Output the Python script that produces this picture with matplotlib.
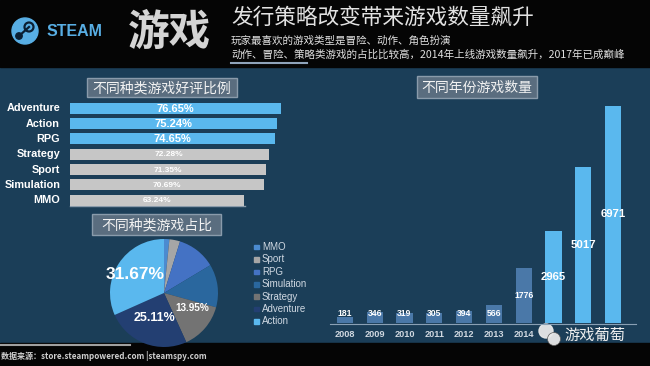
import matplotlib
matplotlib.use("Agg")
import matplotlib.pyplot as plt
from matplotlib.patches import Rectangle, Circle
import numpy as np

plt.rcParams['font.family'] = ['Noto Sans CJK SC', 'DejaVu Sans']

# ---------------- data ----------------
genres = ["Adventure", "Action", "RPG", "Strategy", "Sport", "Simulation", "MMO"]
rating = [76.65, 75.24, 74.65, 72.28, 71.35, 70.69, 63.24]

pie_labels = ["MMO", "Sport", "RPG", "Simulation", "Strategy", "Adventure", "Action"]
pie_share = [1.6, 3.2, 11.6, 12.87, 13.95, 25.11, 31.67]
pie_shown = ["", "", "", "", "13.95%", "25.11%", "31.67%"]

years = ["2008", "2009", "2010", "2011", "2012", "2013", "2014", "2015", "2016", "2017"]
counts = [181, 346, 319, 305, 394, 566, 1776, 2965, 5017, 6971]

title_big = "游戏"
title_main = "发行策略改变带来游戏数量飙升"
sub1 = "玩家最喜欢的游戏类型是冒险、动作、角色扮演"
sub2 = "动作、冒险、策略类游戏的占比比较高，2014年上线游戏数量飙升，2017年已成巅峰"
source = "数据来源：store.steampowered.com |steamspy.com"
watermark = "游戏葡萄"

# ---------------- style ----------------
W, H = 650, 366
BG = "#1b3e58"
LBLUE = "#5ab8ee"
GRAYBAR = "#c6c6c6"
SBLUE = "#4a78a8"
pie_colors = ["#4b8bd0", "#a6a6a6", "#4472c4", "#2a679e", "#737373", "#233f72", "#5ab8ee"]
LIB = ['Liberation Sans', 'DejaVu Sans']

fig = plt.figure(figsize=(W / 100, H / 100), dpi=100)
fig.patch.set_facecolor(BG)

bgax = fig.add_axes([0, 0, 1, 1])
bgax.set_xlim(0, W)
bgax.set_ylim(H, 0)
bgax.axis("off")
bgax.set_zorder(-5)

def rect_px(x0, y0, x1, y1):
    return [x0 / W, 1 - y1 / H, (x1 - x0) / W, (y1 - y0) / H]

# header & footer
bgax.add_patch(Rectangle((0, 0), W, 67, color="#050505"))
bgax.add_patch(Rectangle((0, 343), W, 23, color="#050505"))
bgax.plot([0, 130], [344.5, 344.5], color="#a0a0a0", lw=1.5)
bgax.plot([231, 307], [62.5, 62.5], color="#8fa3ba", lw=1.5)

# steam logo
bgax.add_patch(Circle((25, 31), 13, color="#58aee4"))
bgax.add_patch(Circle((29, 27), 4.5, fill=False, ec="#0b1f33", lw=1.6))
bgax.add_patch(Circle((19, 36), 3.2, color="#0b1f33"))
bgax.plot([19, 29], [36, 27], color="#0b1f33", lw=1.6)
bgax.text(47, 31, "STEAM", color="#58aee4", fontsize=11.5, fontweight="bold",
          family=LIB, va="center", ha="left")
bgax.text(128, 33, title_big, color="#d4d4d4", fontsize=30, fontweight="bold",
          va="center", ha="left")
bgax.text(231, 18, title_main, color="#e2e2e2", fontsize=15.6, va="center", ha="left")
bgax.text(231, 41, sub1, color="#e0e0e0", fontsize=7.6, va="center", ha="left")
bgax.text(231, 55, sub2, color="#e0e0e0", fontsize=7.6, va="center", ha="left")

# title boxes
def title_box(x0, y0, x1, y1, txt, fs=10):
    bgax.add_patch(Rectangle((x0, y0), x1 - x0, y1 - y0, fc="#5a6d7f", ec="#8a9bab", lw=1))
    bgax.text((x0 + x1) / 2, (y0 + y1) / 2 + 0.5, txt, color="#f2f2f2", fontsize=fs,
              ha="center", va="center")

title_box(87, 78, 237, 97, "不同种类游戏好评比例")
bgax.plot([70, 245], [206, 206], color="#8a9bab", lw=1)
title_box(92, 214, 221, 235, "不同种类游戏占比")
title_box(417, 76, 537, 98, "不同年份游戏数量")

# ---------------- left bar chart ----------------
axb = fig.add_axes(rect_px(70, 100.5, 300, 208))
axb.set_facecolor("none")
yb = np.arange(len(genres))
bcols = [LBLUE] * 3 + [GRAYBAR] * 4
axb.barh(yb, rating, height=0.72, color=bcols)
axb.set_xlim(0, 230 / 2.75)
axb.set_ylim(len(genres) - 0.5, -0.5)
axb.axis("off")
for i, (g, v) in enumerate(zip(genres, rating)):
    axb.text(-3.6, i, g, color="white", fontsize=7.8, fontweight="bold",
             family=LIB, ha="right", va="center")
    axb.text(v / 2, i + 0.03, f"{v:.2f}%", color="white",
             fontsize=8 if i < 3 else 6, fontweight="bold", family=LIB,
             ha="center", va="center")

# ---------------- pie ----------------
cx, cy, R = 164, 293, 54
axp = fig.add_axes(rect_px(cx - R, cy - R, cx + R, cy + R))
axp.set_facecolor("none")
wedges, _ = axp.pie(pie_share, colors=pie_colors, startangle=90, counterclock=False,
                    wedgeprops=dict(linewidth=0))
axp.set_xlim(-1, 1)
axp.set_ylim(-1, 1)
axp.set_aspect("equal")
axp.axis("off")
sizes = {"31.67%": 12.5, "25.11%": 9, "13.95%": 7.2}
rads = {"31.67%": 0.63, "25.11%": 0.5, "13.95%": 0.6}
shift = {"31.67%": 0, "25.11%": 0, "13.95%": 12}
for w, lab in zip(wedges, pie_shown):
    if not lab:
        continue
    ang = np.deg2rad((w.theta1 + w.theta2) / 2 + shift[lab])
    r = rads[lab]
    axp.text(r * np.cos(ang), r * np.sin(ang), lab, color="white", fontsize=sizes[lab],
             fontweight="bold", family=LIB, ha="center", va="center")

# legend
for i, (lab, c) in enumerate(zip(pie_labels, pie_colors)):
    y = 247 + i * 12.4
    bgax.add_patch(Rectangle((254, y - 2.3), 4.6, 4.6, color=c))
    bgax.text(262, y, lab, color="#cfd8e2", fontsize=7, family=LIB,
              ha="left", va="center")

# ---------------- right bar chart ----------------
ymax = 7500
top_px = 323 - ymax / 32.1
axr = fig.add_axes(rect_px(330, top_px, 628, 323))
axr.set_facecolor("none")
xr = np.arange(len(years))
rcols = [SBLUE] * 7 + [LBLUE] * 3
axr.bar(xr, counts, width=0.54, color=rcols)
axr.set_xlim(-0.5, len(years) - 0.5)
axr.set_ylim(0, ymax)
axr.axis("off")
for i, v in enumerate(counts):
    yl = max(v / 2, 290)
    axr.text(i, yl, str(v), color="white", fontsize=6.2 if i < 7 else 8.2, fontweight="bold",
             family=LIB, ha="center", va="center")
# year labels (those under the watermark are hidden by it, as in the source image)
for i, yr in enumerate(years[:7]):
    axr.text(i, -370, yr, color="#d0d8e0", fontsize=6.6, fontweight="bold",
             family=LIB, ha="center", va="center")
bgax.plot([330, 636], [323.5, 323.5], color="#8aa0b4", lw=0.8)

# watermark
bgax.add_patch(Circle((546, 331), 7, color="#e8e8e8", alpha=0.95))
bgax.add_patch(Circle((554, 339), 6.5, color="#e8e8e8", alpha=0.95, ec="#555555", lw=0.5))
bgax.text(564, 335, watermark, color="#f0f0f0", fontsize=11, ha="left", va="center")

# footer
bgax.text(1, 356, source, color="#d0d0d0", fontsize=5.8, fontweight="bold", ha="left", va="center")

fig.savefig("out.png", dpi=100, facecolor=fig.get_facecolor())
